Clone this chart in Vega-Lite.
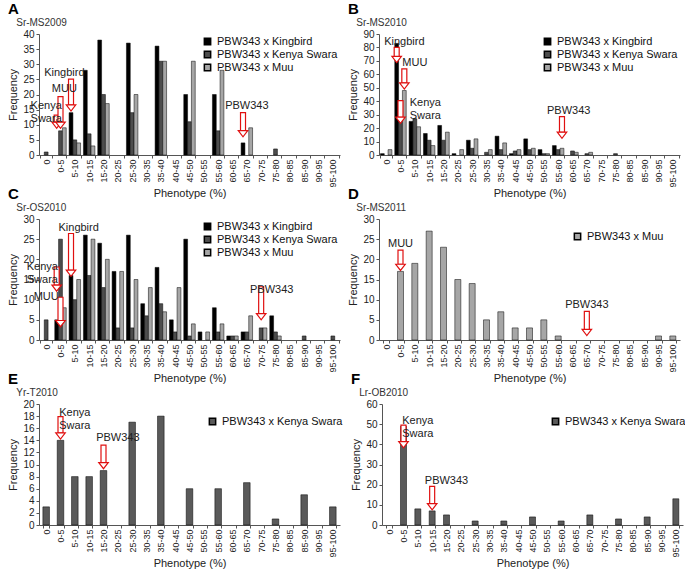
{
  "$schema": "https://vega.github.io/schema/vega-lite/v6.json",
  "padding": {"left": 7, "top": 2, "right": 0, "bottom": 0},
  "spacing": -12,
  "config": {
    "font": "Liberation Sans",
    "view": {"stroke": null},
    "axis": {"labelFontSize": 10, "titleFontSize": 11, "titleFontWeight": "normal", "labelColor": "#222", "titleColor": "#222", "domainColor": "#555", "tickColor": "#555", "grid": false, "tickSize": 3},
    "axisX": {"labelFontSize": 9, "labelAngle": -90, "tickBand": "extent", "titlePadding": 0, "labelPadding": 1},
    "axisY": {"titlePadding": 4, "labelOverlap": false},
    "legend": {"orient": "top-right", "symbolType": "square", "symbolSize": 40, "labelFontSize": 11, "rowPadding": 0, "offset": 2, "padding": 0, "labelColor": "#111"},
    "title": {"anchor": "start", "frame": "bounds", "fontSize": 15, "fontWeight": "bold", "subtitleFontSize": 10, "subtitleColor": "#333", "offset": 1, "subtitlePadding": 1, "color": "#000"}
  },
  "datasets": {
    "A": [
      {"cat": "0", "s": "PBW343 x Kenya Swara", "n": 1},
      {"cat": "0-5", "s": "PBW343 x Kenya Swara", "n": 8},
      {"cat": "0-5", "s": "PBW343 x Muu", "n": 9},
      {"cat": "5-10", "s": "PBW343 x Kingbird", "n": 14},
      {"cat": "5-10", "s": "PBW343 x Kenya Swara", "n": 5},
      {"cat": "5-10", "s": "PBW343 x Muu", "n": 4},
      {"cat": "10-15", "s": "PBW343 x Kingbird", "n": 28},
      {"cat": "10-15", "s": "PBW343 x Kenya Swara", "n": 7},
      {"cat": "10-15", "s": "PBW343 x Muu", "n": 3},
      {"cat": "15-20", "s": "PBW343 x Kingbird", "n": 38},
      {"cat": "15-20", "s": "PBW343 x Kenya Swara", "n": 20},
      {"cat": "15-20", "s": "PBW343 x Muu", "n": 17},
      {"cat": "25-30", "s": "PBW343 x Kingbird", "n": 37},
      {"cat": "25-30", "s": "PBW343 x Kenya Swara", "n": 14},
      {"cat": "25-30", "s": "PBW343 x Muu", "n": 20},
      {"cat": "35-40", "s": "PBW343 x Kingbird", "n": 36},
      {"cat": "35-40", "s": "PBW343 x Kenya Swara", "n": 31},
      {"cat": "35-40", "s": "PBW343 x Muu", "n": 31},
      {"cat": "45-50", "s": "PBW343 x Kingbird", "n": 20},
      {"cat": "45-50", "s": "PBW343 x Kenya Swara", "n": 11},
      {"cat": "45-50", "s": "PBW343 x Muu", "n": 31},
      {"cat": "55-60", "s": "PBW343 x Kingbird", "n": 20},
      {"cat": "55-60", "s": "PBW343 x Kenya Swara", "n": 8},
      {"cat": "55-60", "s": "PBW343 x Muu", "n": 28},
      {"cat": "65-70", "s": "PBW343 x Kingbird", "n": 4},
      {"cat": "65-70", "s": "PBW343 x Muu", "n": 9},
      {"cat": "75-80", "s": "PBW343 x Kenya Swara", "n": 2}
    ],
    "Aa": [
      {"cat": "0-5", "s": "PBW343 x Kingbird", "top": 13.2, "tip": 8.8},
      {"cat": "0-5", "s": "PBW343 x Kenya Swara", "top": 19.3, "tip": 8.8},
      {"cat": "5-10", "s": "PBW343 x Kingbird", "top": 25.1, "tip": 14.5},
      {"cat": "65-70", "s": "PBW343 x Kingbird", "top": 14, "tip": 6}
    ],
    "At": [
      {"cat": "0", "s": "PBW343 x Kenya Swara", "y": 16.2, "label": "Kenya\nSwara"},
      {"cat": "0-5", "s": "PBW343 x Muu", "y": 21.8, "label": "MUU"},
      {"cat": "0-5", "s": "PBW343 x Muu", "y": 27.2, "label": "Kingbird"},
      {"cat": "65-70", "s": "PBW343 x Kenya Swara", "y": 16.2, "label": "PBW343"}
    ],
    "B": [
      {"cat": "0", "s": "PBW343 x Kingbird", "n": 1},
      {"cat": "0", "s": "PBW343 x Muu", "n": 4},
      {"cat": "0-5", "s": "PBW343 x Kingbird", "n": 83},
      {"cat": "0-5", "s": "PBW343 x Kenya Swara", "n": 29},
      {"cat": "0-5", "s": "PBW343 x Muu", "n": 48},
      {"cat": "5-10", "s": "PBW343 x Kingbird", "n": 25},
      {"cat": "5-10", "s": "PBW343 x Kenya Swara", "n": 27},
      {"cat": "5-10", "s": "PBW343 x Muu", "n": 21},
      {"cat": "10-15", "s": "PBW343 x Kingbird", "n": 16},
      {"cat": "10-15", "s": "PBW343 x Kenya Swara", "n": 11},
      {"cat": "10-15", "s": "PBW343 x Muu", "n": 7},
      {"cat": "15-20", "s": "PBW343 x Kingbird", "n": 22},
      {"cat": "15-20", "s": "PBW343 x Kenya Swara", "n": 11},
      {"cat": "15-20", "s": "PBW343 x Muu", "n": 17},
      {"cat": "20-25", "s": "PBW343 x Kingbird", "n": 1},
      {"cat": "20-25", "s": "PBW343 x Muu", "n": 4},
      {"cat": "25-30", "s": "PBW343 x Kingbird", "n": 11},
      {"cat": "25-30", "s": "PBW343 x Kenya Swara", "n": 5},
      {"cat": "25-30", "s": "PBW343 x Muu", "n": 12},
      {"cat": "30-35", "s": "PBW343 x Kenya Swara", "n": 2},
      {"cat": "30-35", "s": "PBW343 x Muu", "n": 4},
      {"cat": "35-40", "s": "PBW343 x Kingbird", "n": 14},
      {"cat": "35-40", "s": "PBW343 x Kenya Swara", "n": 4},
      {"cat": "35-40", "s": "PBW343 x Muu", "n": 9},
      {"cat": "40-45", "s": "PBW343 x Kingbird", "n": 1},
      {"cat": "40-45", "s": "PBW343 x Kenya Swara", "n": 3},
      {"cat": "40-45", "s": "PBW343 x Muu", "n": 4},
      {"cat": "45-50", "s": "PBW343 x Kingbird", "n": 12},
      {"cat": "45-50", "s": "PBW343 x Kenya Swara", "n": 4},
      {"cat": "45-50", "s": "PBW343 x Muu", "n": 5},
      {"cat": "50-55", "s": "PBW343 x Kingbird", "n": 4},
      {"cat": "50-55", "s": "PBW343 x Kenya Swara", "n": 1},
      {"cat": "50-55", "s": "PBW343 x Muu", "n": 1},
      {"cat": "55-60", "s": "PBW343 x Kingbird", "n": 7},
      {"cat": "55-60", "s": "PBW343 x Kenya Swara", "n": 4},
      {"cat": "55-60", "s": "PBW343 x Muu", "n": 5},
      {"cat": "60-65", "s": "PBW343 x Kenya Swara", "n": 3},
      {"cat": "60-65", "s": "PBW343 x Muu", "n": 2},
      {"cat": "65-70", "s": "PBW343 x Kenya Swara", "n": 1},
      {"cat": "65-70", "s": "PBW343 x Muu", "n": 2},
      {"cat": "75-80", "s": "PBW343 x Kenya Swara", "n": 1}
    ],
    "Ba": [
      {"cat": "0-5", "s": "PBW343 x Kingbird", "top": 80, "tip": 68.7},
      {"cat": "0-5", "s": "PBW343 x Muu", "top": 64, "tip": 49},
      {"cat": "0-5", "s": "PBW343 x Kenya Swara", "top": 40.4, "tip": 23.6},
      {"cat": "55-60", "s": "PBW343 x Muu", "top": 28.5, "tip": 12.4}
    ],
    "Bt": [
      {"cat": "0-5", "s": "PBW343 x Muu", "y": 83.8, "label": "Kingbird"},
      {"cat": "5-10", "s": "PBW343 x Kenya Swara", "y": 68.2, "label": "MUU"},
      {"cat": "10-15", "s": "PBW343 x Kingbird", "y": 38.9, "label": "Kenya\nSwara"},
      {"cat": "60-65", "s": "PBW343 x Kingbird", "y": 33, "label": "PBW343"}
    ],
    "C": [
      {"cat": "0", "s": "PBW343 x Kenya Swara", "n": 5},
      {"cat": "0-5", "s": "PBW343 x Kingbird", "n": 5},
      {"cat": "0-5", "s": "PBW343 x Kenya Swara", "n": 25},
      {"cat": "0-5", "s": "PBW343 x Muu", "n": 8},
      {"cat": "5-10", "s": "PBW343 x Kingbird", "n": 16},
      {"cat": "5-10", "s": "PBW343 x Kenya Swara", "n": 10},
      {"cat": "5-10", "s": "PBW343 x Muu", "n": 15},
      {"cat": "10-15", "s": "PBW343 x Kingbird", "n": 26},
      {"cat": "10-15", "s": "PBW343 x Kenya Swara", "n": 16},
      {"cat": "10-15", "s": "PBW343 x Muu", "n": 25},
      {"cat": "15-20", "s": "PBW343 x Kingbird", "n": 24},
      {"cat": "15-20", "s": "PBW343 x Kenya Swara", "n": 13},
      {"cat": "15-20", "s": "PBW343 x Muu", "n": 20},
      {"cat": "20-25", "s": "PBW343 x Kingbird", "n": 17},
      {"cat": "20-25", "s": "PBW343 x Kenya Swara", "n": 3},
      {"cat": "20-25", "s": "PBW343 x Muu", "n": 17},
      {"cat": "25-30", "s": "PBW343 x Kingbird", "n": 26},
      {"cat": "25-30", "s": "PBW343 x Kenya Swara", "n": 3},
      {"cat": "25-30", "s": "PBW343 x Muu", "n": 15},
      {"cat": "30-35", "s": "PBW343 x Kingbird", "n": 9},
      {"cat": "30-35", "s": "PBW343 x Kenya Swara", "n": 6},
      {"cat": "30-35", "s": "PBW343 x Muu", "n": 13},
      {"cat": "35-40", "s": "PBW343 x Kingbird", "n": 18},
      {"cat": "35-40", "s": "PBW343 x Kenya Swara", "n": 9},
      {"cat": "35-40", "s": "PBW343 x Muu", "n": 7},
      {"cat": "40-45", "s": "PBW343 x Kingbird", "n": 5},
      {"cat": "40-45", "s": "PBW343 x Kenya Swara", "n": 2},
      {"cat": "40-45", "s": "PBW343 x Muu", "n": 13},
      {"cat": "45-50", "s": "PBW343 x Kingbird", "n": 25},
      {"cat": "45-50", "s": "PBW343 x Kenya Swara", "n": 1},
      {"cat": "45-50", "s": "PBW343 x Muu", "n": 4},
      {"cat": "50-55", "s": "PBW343 x Kingbird", "n": 2},
      {"cat": "50-55", "s": "PBW343 x Muu", "n": 2},
      {"cat": "55-60", "s": "PBW343 x Kingbird", "n": 8},
      {"cat": "55-60", "s": "PBW343 x Kenya Swara", "n": 2},
      {"cat": "55-60", "s": "PBW343 x Muu", "n": 4},
      {"cat": "60-65", "s": "PBW343 x Kingbird", "n": 1},
      {"cat": "60-65", "s": "PBW343 x Kenya Swara", "n": 1},
      {"cat": "60-65", "s": "PBW343 x Muu", "n": 1},
      {"cat": "65-70", "s": "PBW343 x Kingbird", "n": 2},
      {"cat": "65-70", "s": "PBW343 x Kenya Swara", "n": 2},
      {"cat": "65-70", "s": "PBW343 x Muu", "n": 6},
      {"cat": "70-75", "s": "PBW343 x Kenya Swara", "n": 3},
      {"cat": "70-75", "s": "PBW343 x Muu", "n": 3},
      {"cat": "75-80", "s": "PBW343 x Kingbird", "n": 6},
      {"cat": "75-80", "s": "PBW343 x Kenya Swara", "n": 2},
      {"cat": "75-80", "s": "PBW343 x Muu", "n": 1},
      {"cat": "85-90", "s": "PBW343 x Kenya Swara", "n": 1},
      {"cat": "95-100", "s": "PBW343 x Kenya Swara", "n": 1}
    ],
    "Ca": [
      {"cat": "5-10", "s": "PBW343 x Kingbird", "top": 26.4, "tip": 15.8},
      {"cat": "0-5", "s": "PBW343 x Kingbird", "top": 18.1, "tip": 12.1},
      {"cat": "0-5", "s": "PBW343 x Kenya Swara", "top": 10.6, "tip": 3.3},
      {"cat": "70-75", "s": "PBW343 x Kenya Swara", "top": 13.2, "tip": 5}
    ],
    "Ct": [
      {"cat": "5-10", "s": "PBW343 x Muu", "y": 27.75, "label": "Kingbird"},
      {"cat": "0", "s": "PBW343 x Kingbird", "y": 18.2, "label": "Kenya\nSwara"},
      {"cat": "0", "s": "PBW343 x Kenya Swara", "y": 10.6, "label": "MUU"},
      {"cat": "75-80", "s": "PBW343 x Kingbird", "y": 12.3, "label": "PBW343"}
    ],
    "D": [
      {"cat": "0-5", "s": "PBW343 x Muu", "n": 17},
      {"cat": "5-10", "s": "PBW343 x Muu", "n": 19},
      {"cat": "10-15", "s": "PBW343 x Muu", "n": 27},
      {"cat": "15-20", "s": "PBW343 x Muu", "n": 23},
      {"cat": "20-25", "s": "PBW343 x Muu", "n": 15},
      {"cat": "25-30", "s": "PBW343 x Muu", "n": 14},
      {"cat": "30-35", "s": "PBW343 x Muu", "n": 5},
      {"cat": "35-40", "s": "PBW343 x Muu", "n": 7},
      {"cat": "40-45", "s": "PBW343 x Muu", "n": 3},
      {"cat": "45-50", "s": "PBW343 x Muu", "n": 3},
      {"cat": "50-55", "s": "PBW343 x Muu", "n": 5},
      {"cat": "55-60", "s": "PBW343 x Muu", "n": 1},
      {"cat": "90-95", "s": "PBW343 x Muu", "n": 1},
      {"cat": "95-100", "s": "PBW343 x Muu", "n": 1}
    ],
    "Da": [
      {"cat": "0-5", "top": 22.3, "tip": 17.25},
      {"cat": "65-70", "top": 7.1, "tip": 1.1}
    ],
    "Dt": [
      {"cat": "0-5", "y": 23.75, "label": "MUU"},
      {"cat": "65-70", "y": 8.6, "label": "PBW343"}
    ],
    "E": [
      {"cat": "0", "s": "PBW343 x Kenya Swara", "n": 3},
      {"cat": "0-5", "s": "PBW343 x Kenya Swara", "n": 14},
      {"cat": "5-10", "s": "PBW343 x Kenya Swara", "n": 8},
      {"cat": "10-15", "s": "PBW343 x Kenya Swara", "n": 8},
      {"cat": "15-20", "s": "PBW343 x Kenya Swara", "n": 9},
      {"cat": "25-30", "s": "PBW343 x Kenya Swara", "n": 17},
      {"cat": "35-40", "s": "PBW343 x Kenya Swara", "n": 18},
      {"cat": "45-50", "s": "PBW343 x Kenya Swara", "n": 6},
      {"cat": "55-60", "s": "PBW343 x Kenya Swara", "n": 6},
      {"cat": "65-70", "s": "PBW343 x Kenya Swara", "n": 7},
      {"cat": "75-80", "s": "PBW343 x Kenya Swara", "n": 1},
      {"cat": "85-90", "s": "PBW343 x Kenya Swara", "n": 5},
      {"cat": "95-100", "s": "PBW343 x Kenya Swara", "n": 3}
    ],
    "Ea": [
      {"cat": "0-5", "top": 17.9, "tip": 14.2},
      {"cat": "15-20", "top": 13.2, "tip": 9.3}
    ],
    "Et": [
      {"cat": "5-10", "y": 18.5, "label": "Kenya\nSwara"},
      {"cat": "20-25", "y": 14.3, "label": "PBW343"}
    ],
    "F": [
      {"cat": "0-5", "s": "PBW343 x Kenya Swara", "n": 49},
      {"cat": "5-10", "s": "PBW343 x Kenya Swara", "n": 8},
      {"cat": "10-15", "s": "PBW343 x Kenya Swara", "n": 7},
      {"cat": "15-20", "s": "PBW343 x Kenya Swara", "n": 5},
      {"cat": "25-30", "s": "PBW343 x Kenya Swara", "n": 2},
      {"cat": "35-40", "s": "PBW343 x Kenya Swara", "n": 2},
      {"cat": "45-50", "s": "PBW343 x Kenya Swara", "n": 4},
      {"cat": "55-60", "s": "PBW343 x Kenya Swara", "n": 2},
      {"cat": "65-70", "s": "PBW343 x Kenya Swara", "n": 5},
      {"cat": "75-80", "s": "PBW343 x Kenya Swara", "n": 3},
      {"cat": "85-90", "s": "PBW343 x Kenya Swara", "n": 4},
      {"cat": "95-100", "s": "PBW343 x Kenya Swara", "n": 13}
    ],
    "Fa": [
      {"cat": "0-5", "top": 49.5, "tip": 38.3},
      {"cat": "10-15", "top": 19.2, "tip": 7.5}
    ],
    "Ft": [
      {"cat": "5-10", "y": 51.5, "label": "Kenya\nSwara"},
      {"cat": "15-20", "y": 22, "label": "PBW343"}
    ]
  },
  "resolve": {"scale": {"x": "independent", "y": "independent", "color": "independent", "xOffset": "independent"}, "legend": {"color": "independent"}},
  "vconcat": [
    {
      "hconcat": [
        {
          "width": 301, "height": 121,
          "title": {"text": "A", "subtitle": "\u200b\u00a0\u00a0\u00a0Sr-MS2009"},
          "layer": [
            {"data": {"name": "A"}, "mark": {"type": "bar", "stroke": "#000", "strokeWidth": 0.5},
             "encoding": {
               "x": {"field": "cat", "type": "nominal", "title": "Phenotype (%)", "scale": {"domain": ["0","0-5","5-10","10-15","15-20","20-25","25-30","30-35","35-40","40-45","45-50","50-55","55-60","60-65","65-70","70-75","75-80","80-85","85-90","90-95","95-100"], "paddingInner": 0.2, "paddingOuter": 0.1}},
               "xOffset": {"field": "s", "type": "nominal", "scale": {"domain": ["PBW343 x Kingbird", "PBW343 x Kenya Swara", "PBW343 x Muu"]}},
               "y": {"field": "n", "type": "quantitative", "title": "Frequency", "scale": {"domain": [0, 40]}, "axis": {"values": [0,5,10,15,20,25,30,35,40]}},
               "color": {"field": "s", "type": "nominal", "title": null, "scale": {"domain": ["PBW343 x Kingbird", "PBW343 x Kenya Swara", "PBW343 x Muu"], "range": ["#000000", "#4d4d4d", "#a6a6a6"]}}
             }},
            {"data": {"name": "Aa"}, "mark": {"type": "bar", "width": 5, "fill": "#fff", "stroke": "#e01010", "strokeWidth": 1.2, "y2Offset": -6},
             "encoding": {"x": {"field": "cat", "type": "nominal", "title": "Phenotype (%)"}, "xOffset": {"field": "s", "type": "nominal"}, "y": {"field": "top", "type": "quantitative", "title": "Frequency", "axis": {"values": [0,5,10,15,20,25,30,35,40]}}, "y2": {"field": "tip"}}},
            {"data": {"name": "Aa"}, "mark": {"type": "point", "shape": "M-1,-1.3L1,-1.3L0,0Z", "size": 90, "filled": true, "fill": "#fff", "stroke": "#e01010", "strokeWidth": 1.2, "opacity": 1},
             "encoding": {"x": {"field": "cat", "type": "nominal", "title": "Phenotype (%)"}, "xOffset": {"field": "s", "type": "nominal"}, "y": {"field": "tip", "type": "quantitative", "title": "Frequency", "axis": {"values": [0,5,10,15,20,25,30,35,40]}}}},
            {"data": {"name": "At"}, "mark": {"type": "text", "lineBreak": "\n", "fontSize": 11, "color": "#222", "baseline": "middle"},
             "encoding": {"x": {"field": "cat", "type": "nominal", "title": "Phenotype (%)"}, "xOffset": {"field": "s", "type": "nominal"}, "y": {"field": "y", "type": "quantitative", "title": "Frequency", "axis": {"values": [0,5,10,15,20,25,30,35,40]}}, "text": {"field": "label"}}}
          ]
        },
        {
          "width": 301, "height": 121,
          "title": {"text": "B", "subtitle": "\u200b\u00a0\u00a0\u00a0Sr-MS2010"},
          "layer": [
            {"data": {"name": "B"}, "mark": {"type": "bar", "stroke": "#000", "strokeWidth": 0.5},
             "encoding": {
               "x": {"field": "cat", "type": "nominal", "title": "Phenotype (%)", "scale": {"domain": ["0","0-5","5-10","10-15","15-20","20-25","25-30","30-35","35-40","40-45","45-50","50-55","55-60","60-65","65-70","70-75","75-80","80-85","85-90","90-95","95-100"], "paddingInner": 0.2, "paddingOuter": 0.1}},
               "xOffset": {"field": "s", "type": "nominal", "scale": {"domain": ["PBW343 x Kingbird", "PBW343 x Kenya Swara", "PBW343 x Muu"]}},
               "y": {"field": "n", "type": "quantitative", "title": "Frequency", "scale": {"domain": [0, 90]}, "axis": {"values": [0,10,20,30,40,50,60,70,80,90]}},
               "color": {"field": "s", "type": "nominal", "title": null, "scale": {"domain": ["PBW343 x Kingbird", "PBW343 x Kenya Swara", "PBW343 x Muu"], "range": ["#000000", "#4d4d4d", "#a6a6a6"]}}
             }},
            {"data": {"name": "Ba"}, "mark": {"type": "bar", "width": 5, "fill": "#fff", "stroke": "#e01010", "strokeWidth": 1.2, "y2Offset": -6},
             "encoding": {"x": {"field": "cat", "type": "nominal", "title": "Phenotype (%)"}, "xOffset": {"field": "s", "type": "nominal"}, "y": {"field": "top", "type": "quantitative", "title": "Frequency", "axis": {"values": [0,10,20,30,40,50,60,70,80,90]}}, "y2": {"field": "tip"}}},
            {"data": {"name": "Ba"}, "mark": {"type": "point", "shape": "M-1,-1.3L1,-1.3L0,0Z", "size": 90, "filled": true, "fill": "#fff", "stroke": "#e01010", "strokeWidth": 1.2, "opacity": 1},
             "encoding": {"x": {"field": "cat", "type": "nominal", "title": "Phenotype (%)"}, "xOffset": {"field": "s", "type": "nominal"}, "y": {"field": "tip", "type": "quantitative", "title": "Frequency", "axis": {"values": [0,10,20,30,40,50,60,70,80,90]}}}},
            {"data": {"name": "Bt"}, "mark": {"type": "text", "lineBreak": "\n", "fontSize": 11, "color": "#222", "baseline": "middle"},
             "encoding": {"x": {"field": "cat", "type": "nominal", "title": "Phenotype (%)"}, "xOffset": {"field": "s", "type": "nominal"}, "y": {"field": "y", "type": "quantitative", "title": "Frequency", "axis": {"values": [0,10,20,30,40,50,60,70,80,90]}}, "text": {"field": "label"}}}
          ]
        }
      ],
      "spacing": 7,
      "resolve": {"scale": {"x": "independent", "y": "independent", "color": "independent", "xOffset": "independent"}, "legend": {"color": "independent"}}
    },
    {
      "hconcat": [
        {
          "width": 301, "height": 121,
          "title": {"text": "C", "subtitle": "\u200b\u00a0\u00a0\u00a0Sr-OS2010"},
          "layer": [
            {"data": {"name": "C"}, "mark": {"type": "bar", "stroke": "#000", "strokeWidth": 0.5},
             "encoding": {
               "x": {"field": "cat", "type": "nominal", "title": "Phenotype (%)", "scale": {"domain": ["0","0-5","5-10","10-15","15-20","20-25","25-30","30-35","35-40","40-45","45-50","50-55","55-60","60-65","65-70","70-75","75-80","80-85","85-90","90-95","95-100"], "paddingInner": 0.2, "paddingOuter": 0.1}},
               "xOffset": {"field": "s", "type": "nominal", "scale": {"domain": ["PBW343 x Kingbird", "PBW343 x Kenya Swara", "PBW343 x Muu"]}},
               "y": {"field": "n", "type": "quantitative", "title": "Frequency", "scale": {"domain": [0, 30]}, "axis": {"values": [0,5,10,15,20,25,30]}},
               "color": {"field": "s", "type": "nominal", "title": null, "scale": {"domain": ["PBW343 x Kingbird", "PBW343 x Kenya Swara", "PBW343 x Muu"], "range": ["#000000", "#4d4d4d", "#a6a6a6"]}}
             }},
            {"data": {"name": "Ca"}, "mark": {"type": "bar", "width": 5, "fill": "#fff", "stroke": "#e01010", "strokeWidth": 1.2, "y2Offset": -6},
             "encoding": {"x": {"field": "cat", "type": "nominal", "title": "Phenotype (%)"}, "xOffset": {"field": "s", "type": "nominal"}, "y": {"field": "top", "type": "quantitative", "title": "Frequency", "axis": {"values": [0,5,10,15,20,25,30]}}, "y2": {"field": "tip"}}},
            {"data": {"name": "Ca"}, "mark": {"type": "point", "shape": "M-1,-1.3L1,-1.3L0,0Z", "size": 90, "filled": true, "fill": "#fff", "stroke": "#e01010", "strokeWidth": 1.2, "opacity": 1},
             "encoding": {"x": {"field": "cat", "type": "nominal", "title": "Phenotype (%)"}, "xOffset": {"field": "s", "type": "nominal"}, "y": {"field": "tip", "type": "quantitative", "title": "Frequency", "axis": {"values": [0,5,10,15,20,25,30]}}}},
            {"data": {"name": "Ct"}, "mark": {"type": "text", "lineBreak": "\n", "fontSize": 11, "color": "#222", "baseline": "middle"},
             "encoding": {"x": {"field": "cat", "type": "nominal", "title": "Phenotype (%)"}, "xOffset": {"field": "s", "type": "nominal"}, "y": {"field": "y", "type": "quantitative", "title": "Frequency", "axis": {"values": [0,5,10,15,20,25,30]}}, "text": {"field": "label"}}}
          ]
        },
        {
          "width": 301, "height": 121,
          "title": {"text": "D", "subtitle": "\u200b\u00a0\u00a0\u00a0Sr-MS2011"},
          "layer": [
            {"data": {"name": "D"}, "mark": {"type": "bar", "stroke": "#000", "strokeWidth": 0.5},
             "encoding": {
               "x": {"field": "cat", "type": "nominal", "title": "Phenotype (%)", "scale": {"domain": ["0","0-5","5-10","10-15","15-20","20-25","25-30","30-35","35-40","40-45","45-50","50-55","55-60","60-65","65-70","70-75","75-80","80-85","85-90","90-95","95-100"], "paddingInner": 0.58, "paddingOuter": 0.29}},
               "y": {"field": "n", "type": "quantitative", "title": "Frequency", "scale": {"domain": [0, 30]}, "axis": {"values": [0,5,10,15,20,25,30]}},
               "color": {"field": "s", "type": "nominal", "title": null, "scale": {"domain": ["PBW343 x Muu"], "range": ["#a6a6a6"]}, "legend": {"orient": "none", "legendX": 193, "legendY": 12}}
             }},
            {"data": {"name": "Da"}, "mark": {"type": "bar", "width": 5, "fill": "#fff", "stroke": "#e01010", "strokeWidth": 1.2, "y2Offset": -6},
             "encoding": {"x": {"field": "cat", "type": "nominal", "title": "Phenotype (%)"}, "y": {"field": "top", "type": "quantitative", "title": "Frequency", "axis": {"values": [0,5,10,15,20,25,30]}}, "y2": {"field": "tip"}}},
            {"data": {"name": "Da"}, "mark": {"type": "point", "shape": "M-1,-1.3L1,-1.3L0,0Z", "size": 90, "filled": true, "fill": "#fff", "stroke": "#e01010", "strokeWidth": 1.2, "opacity": 1},
             "encoding": {"x": {"field": "cat", "type": "nominal", "title": "Phenotype (%)"}, "y": {"field": "tip", "type": "quantitative", "title": "Frequency", "axis": {"values": [0,5,10,15,20,25,30]}}}},
            {"data": {"name": "Dt"}, "mark": {"type": "text", "lineBreak": "\n", "fontSize": 11, "color": "#222", "baseline": "middle"},
             "encoding": {"x": {"field": "cat", "type": "nominal", "title": "Phenotype (%)"}, "y": {"field": "y", "type": "quantitative", "title": "Frequency", "axis": {"values": [0,5,10,15,20,25,30]}}, "text": {"field": "label"}}}
          ]
        }
      ],
      "spacing": 7,
      "resolve": {"scale": {"x": "independent", "y": "independent", "color": "independent", "xOffset": "independent"}, "legend": {"color": "independent"}}
    },
    {
      "hconcat": [
        {
          "width": 301, "height": 121,
          "title": {"text": "E", "subtitle": "\u200b\u00a0\u00a0\u00a0Yr-T2010"},
          "layer": [
            {"data": {"name": "E"}, "mark": {"type": "bar", "stroke": "#000", "strokeWidth": 0.5},
             "encoding": {
               "x": {"field": "cat", "type": "nominal", "title": "Phenotype (%)", "scale": {"domain": ["0","0-5","5-10","10-15","15-20","20-25","25-30","30-35","35-40","40-45","45-50","50-55","55-60","60-65","65-70","70-75","75-80","80-85","85-90","90-95","95-100"], "paddingInner": 0.54, "paddingOuter": 0.27}},
               "y": {"field": "n", "type": "quantitative", "title": "Frequency", "scale": {"domain": [0, 20]}, "axis": {"values": [0,2,4,6,8,10,12,14,16,18,20]}},
               "color": {"field": "s", "type": "nominal", "title": null, "scale": {"domain": ["PBW343 x Kenya Swara"], "range": ["#5a5a5a"]}, "legend": {"orient": "none", "legendX": 168, "legendY": 12}}
             }},
            {"data": {"name": "Ea"}, "mark": {"type": "bar", "width": 5, "fill": "#fff", "stroke": "#e01010", "strokeWidth": 1.2, "y2Offset": -6},
             "encoding": {"x": {"field": "cat", "type": "nominal", "title": "Phenotype (%)"}, "y": {"field": "top", "type": "quantitative", "title": "Frequency", "axis": {"values": [0,2,4,6,8,10,12,14,16,18,20]}}, "y2": {"field": "tip"}}},
            {"data": {"name": "Ea"}, "mark": {"type": "point", "shape": "M-1,-1.3L1,-1.3L0,0Z", "size": 90, "filled": true, "fill": "#fff", "stroke": "#e01010", "strokeWidth": 1.2, "opacity": 1},
             "encoding": {"x": {"field": "cat", "type": "nominal", "title": "Phenotype (%)"}, "y": {"field": "tip", "type": "quantitative", "title": "Frequency", "axis": {"values": [0,2,4,6,8,10,12,14,16,18,20]}}}},
            {"data": {"name": "Et"}, "mark": {"type": "text", "lineBreak": "\n", "fontSize": 11, "color": "#222", "baseline": "middle"},
             "encoding": {"x": {"field": "cat", "type": "nominal", "title": "Phenotype (%)"}, "y": {"field": "y", "type": "quantitative", "title": "Frequency", "axis": {"values": [0,2,4,6,8,10,12,14,16,18,20]}}, "text": {"field": "label"}}}
          ]
        },
        {
          "width": 301, "height": 121,
          "title": {"text": "F", "subtitle": "\u200b\u00a0\u00a0\u00a0Lr-OB2010"},
          "layer": [
            {"data": {"name": "F"}, "mark": {"type": "bar", "stroke": "#000", "strokeWidth": 0.5},
             "encoding": {
               "x": {"field": "cat", "type": "nominal", "title": "Phenotype (%)", "scale": {"domain": ["0","0-5","5-10","10-15","15-20","20-25","25-30","30-35","35-40","40-45","45-50","50-55","55-60","60-65","65-70","70-75","75-80","80-85","85-90","90-95","95-100"], "paddingInner": 0.58, "paddingOuter": 0.29}},
               "y": {"field": "n", "type": "quantitative", "title": "Frequency", "scale": {"domain": [0, 60]}, "axis": {"values": [0,10,20,30,40,50,60]}},
               "color": {"field": "s", "type": "nominal", "title": null, "scale": {"domain": ["PBW343 x Kenya Swara"], "range": ["#5a5a5a"]}, "legend": {"orient": "none", "legendX": 168, "legendY": 12}}
             }},
            {"data": {"name": "Fa"}, "mark": {"type": "bar", "width": 5, "fill": "#fff", "stroke": "#e01010", "strokeWidth": 1.2, "y2Offset": -6},
             "encoding": {"x": {"field": "cat", "type": "nominal", "title": "Phenotype (%)"}, "y": {"field": "top", "type": "quantitative", "title": "Frequency", "axis": {"values": [0,10,20,30,40,50,60]}}, "y2": {"field": "tip"}}},
            {"data": {"name": "Fa"}, "mark": {"type": "point", "shape": "M-1,-1.3L1,-1.3L0,0Z", "size": 90, "filled": true, "fill": "#fff", "stroke": "#e01010", "strokeWidth": 1.2, "opacity": 1},
             "encoding": {"x": {"field": "cat", "type": "nominal", "title": "Phenotype (%)"}, "y": {"field": "tip", "type": "quantitative", "title": "Frequency", "axis": {"values": [0,10,20,30,40,50,60]}}}},
            {"data": {"name": "Ft"}, "mark": {"type": "text", "lineBreak": "\n", "fontSize": 11, "color": "#222", "baseline": "middle"},
             "encoding": {"x": {"field": "cat", "type": "nominal", "title": "Phenotype (%)"}, "y": {"field": "y", "type": "quantitative", "title": "Frequency", "axis": {"values": [0,10,20,30,40,50,60]}}, "text": {"field": "label"}}}
          ]
        }
      ],
      "spacing": 7,
      "resolve": {"scale": {"x": "independent", "y": "independent", "color": "independent", "xOffset": "independent"}, "legend": {"color": "independent"}}
    }
  ]
}
